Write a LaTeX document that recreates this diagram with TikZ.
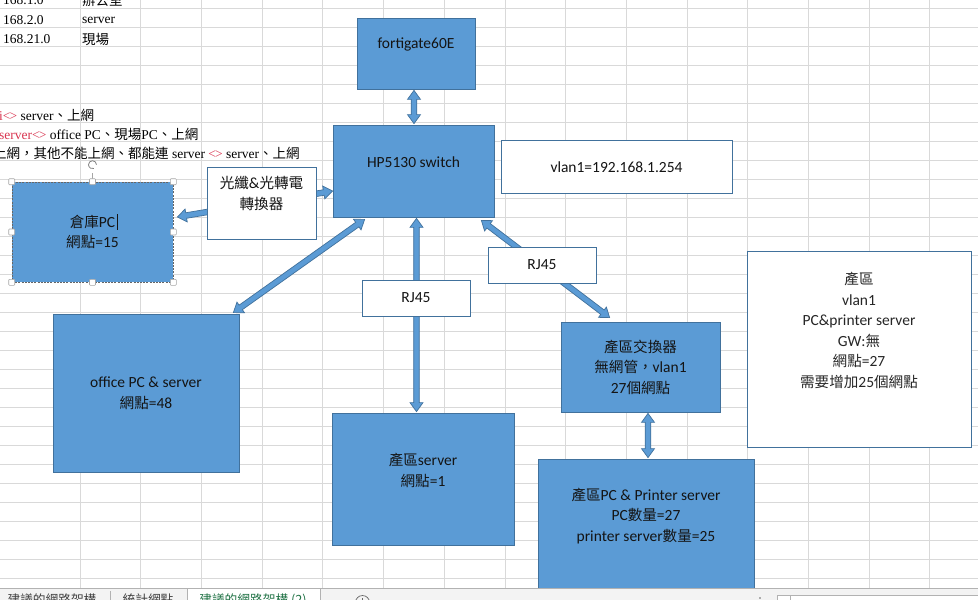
\documentclass[tikz,border=0pt]{standalone}
\usepackage{fontspec}
\setmainfont{Carlito}
\newfontfamily\cjk[Scale=0.94]{Noto Sans CJK TC}
\newfontfamily\cjkc{Noto Sans CJK TC}
\newfontfamily\cellf{Liberation Serif}
\usetikzlibrary{calc}
\definecolor{boxblue}{HTML}{5B9BD5}
\definecolor{boxline}{HTML}{41719C}
\definecolor{gridc}{HTML}{D9D9D9}
\definecolor{cellred}{HTML}{D93550}
\definecolor{tabgreen}{HTML}{217346}
\definecolor{tabbg}{HTML}{F3F3F3}
\definecolor{textc}{HTML}{141414}
\newcommand\zh[1]{{\cjk #1}}
\newcommand\zc[1]{{\cjkc #1}}
\newcommand\fatarrow[2]{%
  \filldraw[fill=boxblue, draw=boxline, line width=0.7pt]
  (#1) -- ($(#1)!9pt!(#2)!6.5pt!90:(#2)$) -- ($(#1)!9pt!(#2)!2.8pt!90:(#2)$)
  -- ($(#2)!9pt!(#1)!2.8pt!-90:(#1)$) -- ($(#2)!9pt!(#1)!6.5pt!-90:(#1)$)
  -- (#2) -- ($(#2)!9pt!(#1)!6.5pt!90:(#1)$) -- ($(#2)!9pt!(#1)!2.8pt!90:(#1)$)
  -- ($(#1)!9pt!(#2)!2.8pt!-90:(#2)$) -- ($(#1)!9pt!(#2)!6.5pt!-90:(#2)$) -- cycle;}
\begin{document}
\begin{tikzpicture}[x=1pt,y=-1pt,
  bluebox/.style={draw=boxline, fill=boxblue, line width=0.75pt, inner sep=0pt},
  whitebox/.style={draw=boxline, fill=white, line width=0.75pt, inner sep=0pt},
  txt/.style={text=textc, align=center, inner sep=0pt, font=\fontsize{15.5}{20.5}\selectfont},
  celltxt/.style={inner sep=0pt, anchor=west, font=\cellf\fontsize{13.5}{16}\selectfont},
  gridline/.style={draw=gridc, line width=0.8pt},
  handle/.style={draw=gray!70, fill=white, minimum size=6pt, inner sep=0pt, rounded corners=0.8pt, line width=0.6pt},
  tabtxt/.style={inner sep=0pt, font=\cjkc\fontsize{12.7}{14}\selectfont, text=black!75}
]
\useasboundingbox (0,0) rectangle (978,600);
\clip (0,0) rectangle (978,600);
\fill[white] (0,0) rectangle (978,600);
% spreadsheet grid
\foreach \i in {0,...,14} \draw[gridline] ({80+60.7*\i},0) -- ({80+60.7*\i},588);
\foreach \j in {0,...,30} \draw[gridline] (0,{8+19*\j}) -- (978,{8+19*\j});
% cell texts
\node[celltxt] (c1) at (3,0) {168.1.0};
\node[celltxt] (c2) at (3,20) {168.2.0};
\node[celltxt] (c3) at (3,39) {168.21.0};
\node[celltxt] (c4) at (82,0) {\zc{辦公室}};
\node[celltxt] (c5) at (82,20) {server};
\node[celltxt] (c6) at (82,39) {\zc{現場}};
\node[celltxt] (r1) at (-1,115) {\textcolor{cellred}{i<\kern-1pt>} server\zc{、上網}};
\node[celltxt] (r2) at (-1,134) {\textcolor{cellred}{server<\kern-1pt>} office PC\zc{、現場}PC\zc{、上網}};
\node[celltxt] (r3) at (-7,153) {\zc{上網，其他不能上網、都能連} server \textcolor{cellred}{<\kern-1pt>} server\zc{、上網}};
% blue boxes
\node[bluebox, minimum width=118pt, minimum height=71pt] (fg) at (416,53.5) {};
\node[bluebox, minimum width=161pt, minimum height=92pt] (hp) at (413.5,171) {};
\node[draw=gray!80!black, fill=boxblue, line width=0.6pt, dash pattern=on 2pt off 1.2pt, inner sep=0pt, minimum width=161pt, minimum height=100pt] (wh) at (92.5,232) {};
\node[bluebox, minimum width=186pt, minimum height=158pt] (of) at (146,393) {};
\node[bluebox, minimum width=182pt, minimum height=132pt] (ps) at (423,479) {};
\node[bluebox, minimum width=159pt, minimum height=90pt] (sw) at (640.5,367) {};
\node[bluebox, minimum width=216pt, minimum height=161pt] (pp) at (646,539.5) {};
% connector end points
\coordinate (e1a) at ([xshift=-2pt,yshift=-1pt]fg.south);
\coordinate (e1b) at ([xshift=0.5pt,yshift=1pt]hp.north);
\coordinate (e2a) at ([xshift=4pt,yshift=15pt]wh.east);
\coordinate (e2b) at ([yshift=-20pt]hp.west);
\coordinate (e3a) at ([xshift=32pt,yshift=-2pt]hp.south west);
\coordinate (e3b) at ([xshift=-6pt,yshift=1pt]of.north east);
\coordinate (e4a) at ([xshift=3pt,yshift=-1pt]hp.south);
\coordinate (e4b) at ([xshift=-6.5pt,yshift=1pt]ps.north);
\coordinate (e5a) at ([xshift=-13pt,yshift=-3pt]hp.south east);
\coordinate (e5b) at ([xshift=49pt,yshift=4pt]sw.north west);
\coordinate (e6a) at ([xshift=7.5pt,yshift=-1pt]sw.south);
\coordinate (e6b) at ([xshift=2pt,yshift=1pt]pp.north);
\fatarrow{e1a}{e1b}
\fatarrow{e2a}{e2b}
\fatarrow{e3a}{e3b}
\fatarrow{e4a}{e4b}
\fatarrow{e5a}{e5b}
\fatarrow{e6a}{e6b}
% white label boxes
\node[whitebox, minimum width=109pt, minimum height=72pt] (fb) at (261.5,203) {};
\node[whitebox, minimum width=231pt, minimum height=53pt] (vl) at (616.5,166.5) {};
\node[whitebox, minimum width=108pt, minimum height=36pt] (rj1) at (416,298) {};
\node[whitebox, minimum width=108pt, minimum height=36pt] (rj2) at (542,265) {};
\node[whitebox, minimum width=224pt, minimum height=196pt] (info) at (859,349) {};
% texts
\node[txt] (fgt) at (416,44) {fortigate60E};
\node[txt] (hpt) at (413.5,162) {HP5130 switch};
\node[txt] (wht) at (92.5,232) {\zh{倉庫}PC\\\zh{網點}=15};
\node[txt] (fbt) at (261.5,193.5) {\zh{光纖}\&\zh{光轉電}\\\zh{轉換器}};
\node[txt] (vlt) at (616.5,167) {vlan1=192.168.1.254};
\node[txt] (oft) at (146,393) {office PC \& server\\\zh{網點}=48};
\node[txt] (rj1t) at (416,298) {RJ45};
\node[txt] (rj2t) at (542,265) {RJ45};
\node[txt] (pst) at (423,470.5) {\zh{產區}server\\\zh{網點}=1};
\node[txt] (swt) at (640.5,367) {\zh{產區交換器}\\\zh{無網管，}vlan1\\27\zh{個網點}};
\node[txt] (ppt) at (646,516) {\zh{產區}PC \& Printer server\\PC\zh{數量}=27\\printer server\zh{數量}=25};
\node[txt, text=black!85] (inft) at (859,330.5) {\zh{產區}\\vlan1\\PC\&printer server\\GW:\zh{無}\\\zh{網點}=27\\\zh{需要增加}25\zh{個網點}};
% selection handles of the 倉庫PC shape
\draw[gray!70, line width=0.6pt] (wh.north) -- ++(0,-9);
\draw[gray, line width=0.8pt] ([yshift=17pt]wh.north) ++(4,0) arc[start angle=0, end angle=290, radius=4pt];
\foreach \a in {north west,north,north east,west,east,south west,south,south east}
  \node[handle] at (wh.\a) {};
\draw[textc, line width=0.6pt] (117,214) -- (117,230);
% sheet tab bar
\fill[tabbg] (0,588) rectangle (978,600);
\fill[white] (187,588) rectangle (320,600);
\draw[gray!60, line width=0.7pt] (0,588) -- (978,588);
\draw[gray!60, line width=0.7pt] (187,588) -- (187,600) (320,588) -- (320,600);
\draw[gray!60, line width=0.6pt] (110,591) -- (110,600);
\node[tabtxt] (t1) at (52,600) {建議的網路架構};
\node[tabtxt] (t2) at (148,600) {統計網點};
\node[tabtxt, text=tabgreen] (t3) at (253,600) {建議的網路架構 (2)};
\draw[gray!80!black, line width=0.7pt] (362.5,602.5) circle[radius=7pt];
\draw[gray!80!black, line width=0.7pt] (362.5,598) -- (362.5,607);
\fill[gray!80!black] (760,598) circle[radius=0.8pt];
\draw[gray!60, line width=0.6pt, fill=white] (777,595) rectangle (790,606);
\draw[gray!60, line width=0.6pt, fill=white] (790,595) rectangle (985,606);
\end{tikzpicture}
\end{document}
